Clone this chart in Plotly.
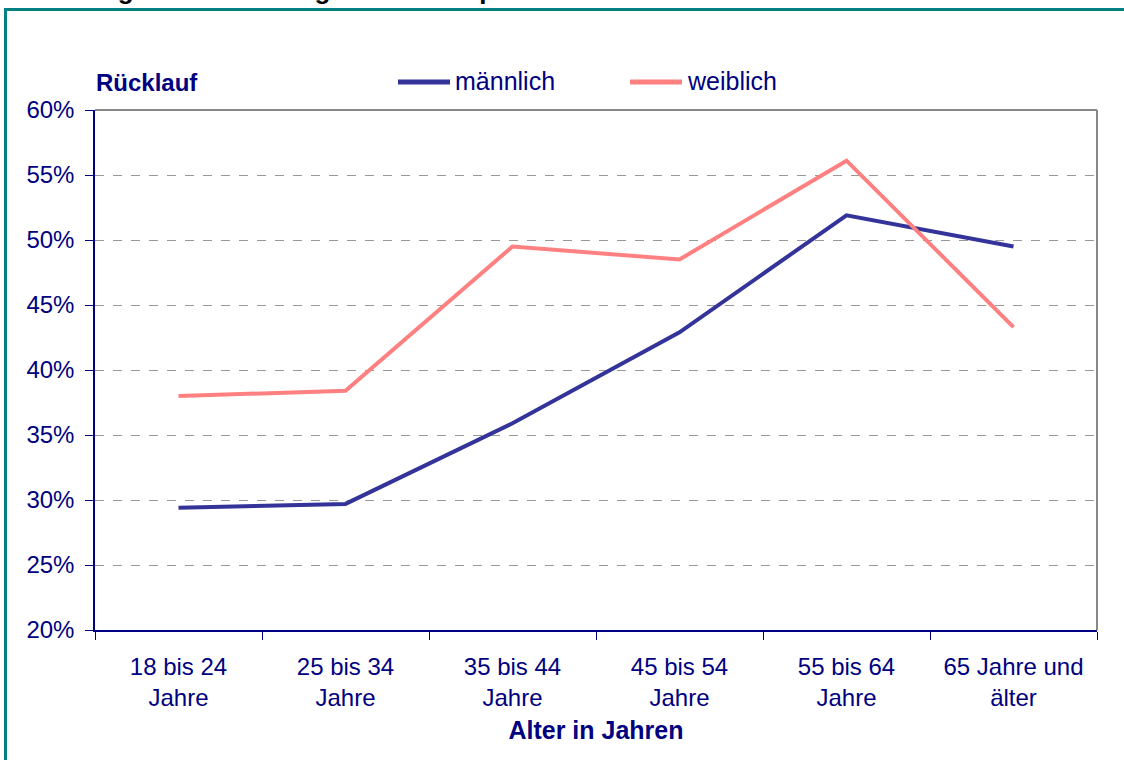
import plotly.graph_objects as go

categories = ["18 bis 24<br>Jahre", "25 bis 34<br>Jahre", "35 bis 44<br>Jahre",
              "45 bis 54<br>Jahre", "55 bis 64<br>Jahre", "65 Jahre und<br>älter"]
maennlich = [29.4, 29.7, 35.9, 42.9, 51.9, 49.5]
weiblich = [38.0, 38.4, 49.5, 48.5, 56.1, 43.3]
y_ticks = [20, 25, 30, 35, 40, 45, 50, 55, 60]
series_names = ["männlich", "weiblich"]
series_colors = ["#333399", "#FF8080"]

NAVY = "#000080"
FONT = "Liberation Sans, Arial, sans-serif"

fig = go.Figure()
for name, vals, col in zip(series_names, [maennlich, weiblich], series_colors):
    fig.add_trace(go.Scatter(x=categories, y=vals, mode="lines", name=name,
                             line=dict(color=col, width=4), showlegend=False))

L, R, T, B = 95, 27, 110, 130
W, H = 1124, 760
pw, ph = W - L - R, H - T - B

def px(x):
    return (x - L) / pw

def py(y):
    return (H - B - y) / ph

shapes = [
    dict(type="rect", xref="paper", yref="paper",
         x0=px(5.5), x1=px(1140), y0=py(9.5), y1=py(780),
         line=dict(color="#008080", width=3), layer="below"),
    dict(type="line", xref="paper", yref="paper", x0=0, x1=1, y0=1, y1=1,
         line=dict(color="#888888", width=2)),
    dict(type="line", xref="paper", yref="paper", x0=1, x1=1, y0=0, y1=1,
         line=dict(color="#888888", width=2)),
]
annotations = [
    dict(text="<b>Rücklauf</b>", xref="paper", yref="paper", x=px(94), y=py(83),
         xanchor="left", yanchor="middle", showarrow=False,
         font=dict(size=24, color=NAVY)),
    dict(text="<b>Abbildung 1: Alters- und geschlechtsspezifischer Rücklauf</b>",
         xref="paper", yref="paper", x=px(3), y=py(-10), xanchor="left", yanchor="middle",
         showarrow=False, font=dict(size=26, color="black")),
]
# manual legend (line sample + label)
leg_x = [398, 630]
for name, col, lx in zip(series_names, series_colors, leg_x):
    shapes.append(dict(type="line", xref="paper", yref="paper",
                       x0=px(lx), x1=px(lx + 52), y0=py(82), y1=py(82),
                       line=dict(color=col, width=5)))
    annotations.append(dict(text=name, xref="paper", yref="paper", x=px(lx + 55), y=py(81),
                            xanchor="left", yanchor="middle", showarrow=False,
                            font=dict(size=25, color=NAVY)))

fig.update_layout(
    width=W, height=H,
    margin=dict(l=L, r=R, t=T, b=B, autoexpand=False),
    paper_bgcolor="white", plot_bgcolor="white",
    font=dict(family=FONT, color=NAVY, size=24),
    showlegend=False,
    xaxis=dict(
        type="category", range=[-0.5, len(categories) - 0.5],
        showgrid=False, zeroline=False, automargin=False,
        showline=True, linecolor=NAVY, linewidth=1.5,
        ticks="outside", tickson="boundaries", ticklen=8, tickcolor=NAVY,
        tickfont=dict(size=24, color=NAVY), ticklabelstandoff=14,
        title=dict(text="<b>Alter in Jahren</b>", font=dict(size=25, color=NAVY), standoff=12),
        fixedrange=True,
    ),
    yaxis=dict(
        range=[20, 60], tickvals=y_ticks, ticktext=[f"{v}%" for v in y_ticks],
        showgrid=True, gridcolor="#999999", griddash="dash", gridwidth=1,
        zeroline=False, showline=True, linecolor=NAVY, linewidth=1.5, automargin=False,
        ticks="outside", ticklen=8, tickcolor=NAVY, ticklabelstandoff=6,
        tickfont=dict(size=24, color=NAVY),
        fixedrange=True,
    ),
    shapes=shapes,
    annotations=annotations,
)

fig.write_html("out.html", post_script="document.body.style.margin='0';",
               config={"displayModeBar": False})
